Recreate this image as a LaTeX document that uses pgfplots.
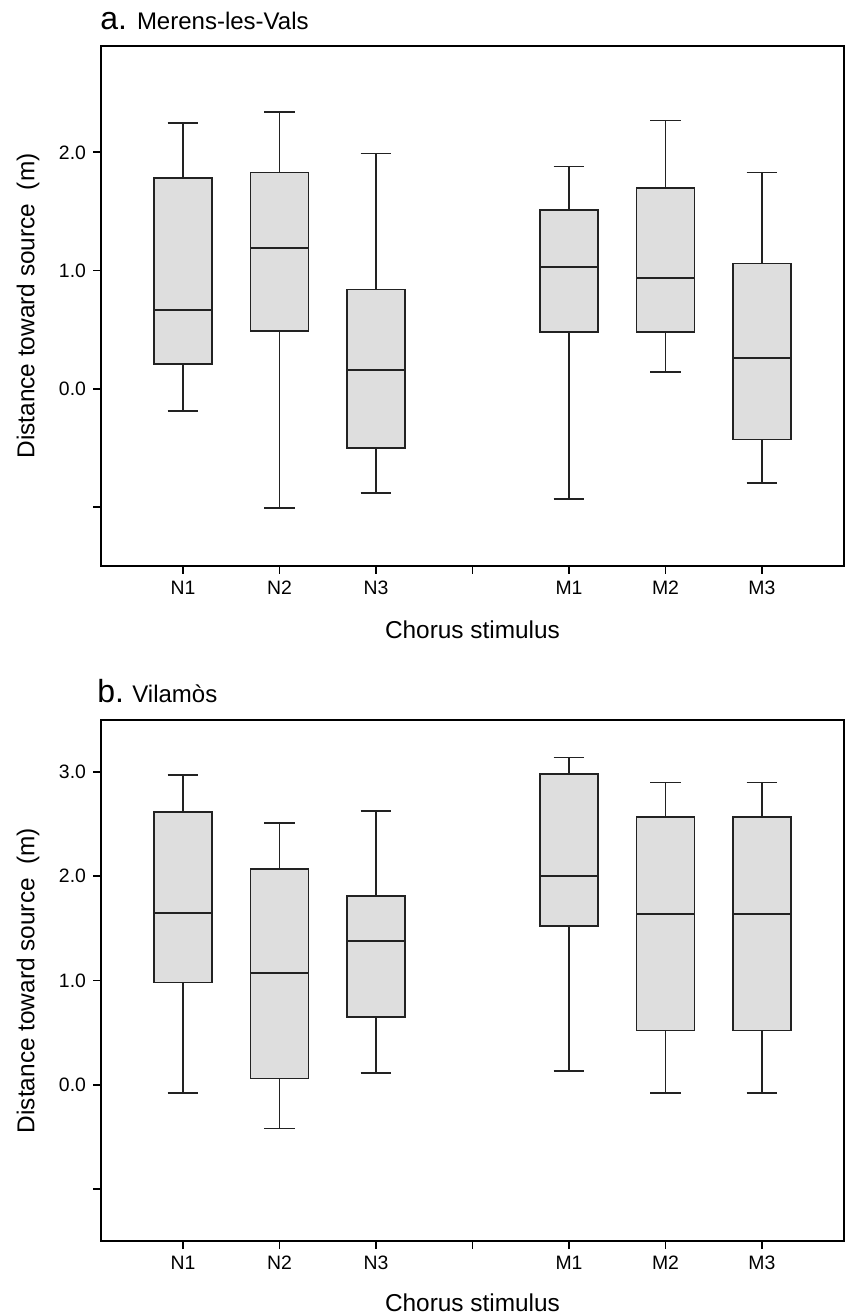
\documentclass[border=0pt]{standalone}
\usepackage{pgfplots}
\pgfplotsset{compat=1.18}
\usepgfplotslibrary{statistics}
\usepackage{fontspec}
\setmainfont{Liberation Sans}
\definecolor{boxgray}{HTML}{DEDEDE}
\definecolor{lin}{HTML}{222222}
\pgfplotsset{
  myax/.style={
    scale only axis,
    width=371.5pt,
    xmin=0.15, xmax=7.85,
    xtick={1,2,3,4,5,6,7},
    xticklabels={N1,N2,N3,,M1,M2,M3},
    xtick pos=bottom, ytick pos=left,
    tick align=outside,
    major tick length=4pt,
    axis line style={line width=1pt, black},
    every tick/.style={line width=0.9pt, black},
    tick label style={font=\fontsize{9.7}{11}\selectfont},
    label style={font=\fontsize{12.2}{14}\selectfont},
    xlabel={Chorus stimulus},
    ylabel={Distance toward source\ \ (m)},
    ylabel style={at={(axis description cs:-0.098,0.5)}, anchor=center},
    boxplot/draw direction=y,
    boxplot/box extend=0.6,
    boxplot/whisker extend=0.32,
  },
  bx/.style={fill=boxgray, draw=lin, line width=0.9pt, solid, mark=none},
}
\newcommand{\bp}[6]{\addplot[bx, boxplot prepared={draw position=#1, lower whisker=#2, lower quartile=#3, median=#4, upper quartile=#5, upper whisker=#6}] coordinates {};}
\begin{document}
\begin{tikzpicture}
\useasboundingbox (0,0) rectangle (423pt,658pt);
% panel a
\begin{axis}[myax, at={(50.5pt,375pt)}, anchor=south west, height=260pt,
  ymin=-1.5, ymax=2.9,
  ytick={-1,0,1,2}, yticklabels={,0.0,1.0,2.0},
  xlabel style={at={(axis description cs:0.5,-0.123)}, anchor=center}]
\bp{1}{-0.19}{0.21}{0.665}{1.78}{2.25}
\bp{2}{-1.01}{0.49}{1.19}{1.83}{2.34}
\bp{3}{-0.88}{-0.50}{0.16}{0.84}{1.99}
\bp{5}{-0.93}{0.48}{1.03}{1.51}{1.88}
\bp{6}{0.14}{0.48}{0.94}{1.70}{2.27}
\bp{7}{-0.80}{-0.43}{0.26}{1.06}{1.83}
\end{axis}
\node[anchor=base west, inner sep=0pt, font=\fontsize{16}{18}\selectfont] at (50pt,643pt) {a.};
\node[anchor=base west, inner sep=0pt, font=\fontsize{12}{14}\selectfont] at (68.3pt,643pt) {Merens-les-Vals};
% panel b
\begin{axis}[myax, at={(50.5pt,37.5pt)}, anchor=south west, height=260.5pt,
  ymin=-1.5, ymax=3.5,
  ytick={-1,0,1,2,3}, yticklabels={,0.0,1.0,2.0,3.0},
  xlabel style={at={(axis description cs:0.5,-0.119)}, anchor=center}]
\bp{1}{-0.08}{0.98}{1.65}{2.62}{2.97}
\bp{2}{-0.42}{0.06}{1.07}{2.07}{2.51}
\bp{3}{0.11}{0.65}{1.38}{1.81}{2.63}
\bp{5}{0.13}{1.52}{2.00}{2.98}{3.14}
\bp{6}{-0.08}{0.52}{1.64}{2.57}{2.90}
\bp{7}{-0.08}{0.52}{1.64}{2.57}{2.90}
\end{axis}
\node[anchor=base west, inner sep=0pt, font=\fontsize{16}{18}\selectfont] at (48.5pt,306.9pt) {b.};
\node[anchor=base west, inner sep=0pt, font=\fontsize{12}{14}\selectfont] at (66pt,306.9pt) {Vilamòs};
\end{tikzpicture}
\end{document}
